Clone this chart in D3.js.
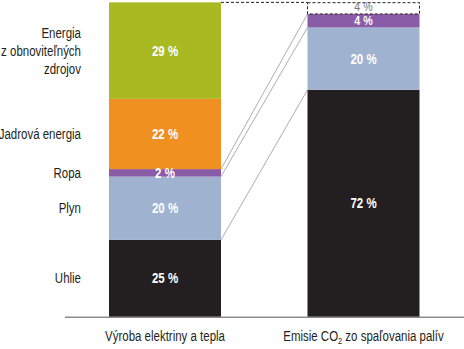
<!DOCTYPE html>
<html><head><meta charset="utf-8">
<script src="https://cdn.jsdelivr.net/npm/d3@7"></script>
<style>body{margin:0;background:#fff}svg{display:block}text{font-family:"Liberation Sans",Arial,sans-serif}</style>
</head><body>
<svg id="c" width="464" height="349"></svg>
<script>
const categories = ["Výroba elektriny a tepla", "Emisie CO2 zo spaľovania palív"];
const segments = ["Uhlie", "Plyn", "Ropa", "Jadrová energia", "Energia z obnoviteľných zdrojov", "Ostatné"];
const electricity = [24.5, 20.2, 2.4, 22.4, 30.8];
const electricityLabels = ["25 %", "20 %", "2 %", "22 %", "29 %"];
const emissions = [72.4, 19.9, 4.3, 3.6];
const emissionsLabels = ["72 %", "20 %", "4 %", "4 %"];
const segmentNames = [["Uhlie"], ["Plyn"], ["Ropa"], ["Jadrová energia"], ["Energia", "z obnoviteľných", "zdrojov"]];
const colors = ["#231f20", "#9fb2d0", "#8a5ba6", "#ef9021", "#a9b922", "none"];

const svg = d3.select("#c");
const y = d3.scaleLinear().domain([0, 100]).range([316.7, 3.3]);
const x = d3.scalePoint().domain(categories).range([165, 363.5]);
const bw = 112;
const SX = 0.82;

function ntext(parent, tx, ty, anchor) {
  return parent.append("g").attr("transform", `translate(${tx},${ty}) scale(${SX},1)`)
    .append("text").attr("text-anchor", anchor);
}

function stack(vals) {
  let acc = 0;
  return vals.map((v, i) => { const s = {i, y0: acc, y1: acc + v}; acc += v; return s; });
}
const sE = stack(electricity), sC = stack(emissions);
const xL = x(categories[0]) - bw / 2, xR = x(categories[1]) - bw / 2;

// connectors
const conn = [[sE[2].y1, sC[2].y1], [sE[1].y1, sC[1].y1], [sE[0].y1, sC[0].y1]];
svg.selectAll("line.conn").data(conn).join("line")
  .attr("x1", xL + bw).attr("x2", xR).attr("y1", d => y(d[0])).attr("y2", d => y(d[1]))
  .attr("stroke", "#8a8a8a").attr("stroke-width", 0.7);

// dashed top line
svg.append("line").attr("x1", xL + bw).attr("x2", xR).attr("y1", y(sE[4].y1)).attr("y2", y(sE[4].y1))
  .attr("stroke", "#222").attr("stroke-dasharray", "3,2").attr("stroke-width", 1);

// bars
svg.selectAll("rect.e").data(sE).join("rect")
  .attr("x", xL).attr("width", bw).attr("y", d => y(d.y1)).attr("height", d => y(d.y0) - y(d.y1))
  .attr("fill", d => colors[d.i]);
svg.selectAll("rect.c").data(sC).join("rect")
  .attr("x", xR).attr("width", bw).attr("y", d => y(d.y1)).attr("height", d => y(d.y0) - y(d.y1))
  .attr("fill", d => d.i === 3 ? "none" : colors[d.i])
  .attr("stroke", d => d.i === 3 ? "#222" : "none")
  .attr("stroke-dasharray", "3,2").attr("stroke-width", 1);

// value labels
sE.forEach(d => {
  ntext(svg, x(categories[0]), y((d.y0 + d.y1) / 2) + 5, "middle")
    .attr("fill", "#fff").attr("font-size", 14).attr("font-weight", "bold")
    .text(electricityLabels[d.i]);
});
sC.forEach(d => {
  const small = d.i >= 2;
  ntext(svg, x(categories[1]), y((d.y0 + d.y1) / 2) + (d.i === 3 ? 3 : small ? 4.5 : 5), "middle")
    .attr("fill", d.i === 3 ? "#777" : "#fff").attr("font-size", small ? 13 : 14)
    .attr("font-weight", d.i === 3 ? "normal" : "bold")
    .text(emissionsLabels[d.i]);
});

// segment names
sE.forEach(d => {
  const lines = segmentNames[d.i];
  const cy = y((d.y0 + d.y1) / 2);
  lines.forEach((ln, k) => {
    ntext(svg, 81, cy + 5 + (k - (lines.length - 1) / 2) * 18, "end")
      .attr("font-size", 14).attr("fill", "#231f20").text(ln);
  });
});

// baseline
svg.append("line").attr("x1", 65).attr("x2", 464).attr("y1", y(0) + 0.5).attr("y2", y(0) + 0.5)
  .attr("stroke", "#555").attr("stroke-width", 1);

// category labels
ntext(svg, x(categories[0]), 341, "middle").attr("font-size", 14).attr("fill", "#231f20").text(categories[0]);
const t2 = ntext(svg, x(categories[1]), 341, "middle").attr("font-size", 14).attr("fill", "#231f20");
t2.append("tspan").text("Emisie CO");
t2.append("tspan").attr("font-size", 9).attr("dy", 3).text("2");
t2.append("tspan").attr("dy", -3).text(" zo spaľovania palív");
</script>
</body></html>
